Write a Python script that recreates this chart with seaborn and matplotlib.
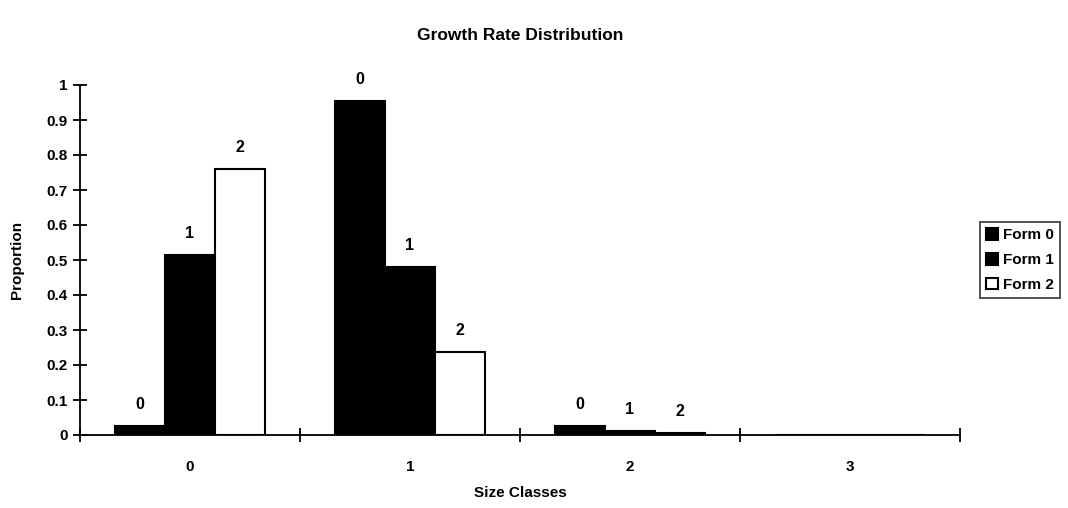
import matplotlib
matplotlib.use("Agg")
import matplotlib.pyplot as plt
import seaborn as sns
import pandas as pd
from matplotlib.ticker import FixedLocator, NullFormatter

size_classes = ["0", "1", "2", "3"]
forms = ["Form 0", "Form 1", "Form 2"]
form0 = [0.025, 0.955, 0.025, 0.0]
form1 = [0.514, 0.48, 0.012, 0.0]
form2 = [0.76, 0.237, 0.006, 0.0]
bar_labels = ["0", "1", "2"]

rows = []
for f, vals in zip(forms, [form0, form1, form2]):
    for c, v in zip(size_classes, vals):
        rows.append({"Size Classes": c, "Form": f, "Proportion": v})
df = pd.DataFrame(rows)

sns.set_theme(style="white")
plt.rcParams["font.family"] = ["Liberation Sans", "DejaVu Sans"]
plt.rcParams["font.weight"] = "bold"
plt.rcParams["text.color"] = "black"
plt.rcParams["axes.labelcolor"] = "black"
plt.rcParams["xtick.color"] = "black"
plt.rcParams["ytick.color"] = "black"

fig = plt.figure(figsize=(10.68, 5.08), dpi=100)
ax = fig.add_axes([80 / 1068, 1 - 435 / 508, 880 / 1068, 350 / 508])

sns.barplot(data=df, x="Size Classes", y="Proportion", hue="Form",
            order=size_classes, hue_order=forms,
            palette=["black", "black", "white"], edgecolor="black",
            linewidth=1.5, width=0.68, gap=0, ax=ax, legend=True)

for cont, lab in zip(ax.containers, bar_labels):
    vals = [b.get_height() for b in cont]
    ax.bar_label(cont, labels=[lab if v > 0 else "" for v in vals],
                 padding=10, fontsize=11.5, fontweight="bold", color="black")

ax.set_xlim(-0.5, 3.5)
ax.set_ylim(0, 1)
ax.set_yticks([i / 10 for i in range(11)])
ax.set_yticklabels(["0", "0.1", "0.2", "0.3", "0.4", "0.5", "0.6", "0.7", "0.8", "0.9", "1"],
                   fontsize=11, fontweight="bold")
ax.xaxis.set_major_locator(FixedLocator([-0.5, 0.5, 1.5, 2.5, 3.5]))
ax.xaxis.set_major_formatter(NullFormatter())
ax.xaxis.set_minor_locator(FixedLocator([0, 1, 2, 3]))
ax.set_xticklabels(size_classes, minor=True, fontsize=11, fontweight="bold")
ax.tick_params(axis="x", which="major", bottom=True, direction="inout", length=10,
               width=1.3, color="black")
ax.tick_params(axis="x", which="minor", bottom=True, length=0, pad=18)
ax.tick_params(axis="y", left=True, direction="inout", length=10, width=1.3,
               color="black", pad=4)

for s in ["top", "right"]:
    ax.spines[s].set_visible(False)
for s in ["left", "bottom"]:
    ax.spines[s].set_color("black")
    ax.spines[s].set_linewidth(1.3)

ax.set_xlabel("Size Classes", fontsize=11, fontweight="bold")
ax.xaxis.set_label_coords(0.5, -0.147)
ax.set_ylabel("Proportion", fontsize=11, fontweight="bold", labelpad=16)
fig.suptitle("Growth Rate Distribution", x=520 / 1068, y=1 - 28 / 508,
             fontsize=12.5, fontweight="bold")

leg = ax.legend(loc="center left", bbox_to_anchor=(972 / 1068, 1 - 260 / 508),
                bbox_transform=fig.transFigure, frameon=True, fancybox=False,
                edgecolor="black", fontsize=11, handlelength=0.8, handleheight=0.8,
                handletextpad=0.3, borderpad=0.4, labelspacing=0.7)
leg.get_frame().set_linewidth(1.2)
for t in leg.get_texts():
    t.set_fontweight("bold")
    t.set_color("black")

fig.savefig("out.png", dpi=100)
